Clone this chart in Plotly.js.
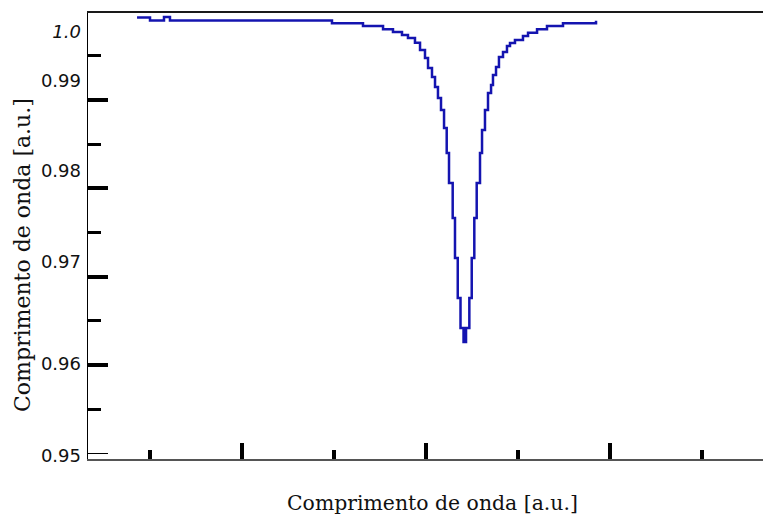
<!DOCTYPE html>
<html>
<head>
<meta charset="utf-8">
<script src="https://cdn.plot.ly/plotly-3.0.1.min.js"></script>
<style>html,body{margin:0;padding:0;background:#fff;}#chart{width:763px;height:515px;}</style>
</head>
<body>
<div id="chart"></div>
<script>
// Sampled transmission dip (stepped trace), arbitrary units
const wavelength = [0.859, 1.000, 1.152, 1.217, 2.978, 3.315, 3.533, 3.641, 3.739, 3.804, 3.880, 3.935, 3.989, 4.022, 4.065, 4.098, 4.130, 4.163, 4.196, 4.225, 4.250, 4.290, 4.315, 4.345, 4.375, 4.408, 4.435, 4.471, 4.497, 4.525, 4.551, 4.587, 4.609, 4.641, 4.674, 4.707, 4.728, 4.761, 4.793, 4.837, 4.880, 4.913, 4.967, 5.054, 5.109, 5.207, 5.315, 5.489, 5.848];
const intensity = [0.99934, 0.99900, 0.99940, 0.99900, 0.99868, 0.99838, 0.99800, 0.99770, 0.99736, 0.99702, 0.99649, 0.99566, 0.99476, 0.99362, 0.99260, 0.99147, 0.99023, 0.98887, 0.98683, 0.98400, 0.98060, 0.97664, 0.97211, 0.96759, 0.96419, 0.96260, 0.96419, 0.96759, 0.97211, 0.97664, 0.98060, 0.98400, 0.98660, 0.98887, 0.99079, 0.99170, 0.99283, 0.99374, 0.99487, 0.99544, 0.99611, 0.99645, 0.99679, 0.99725, 0.99762, 0.99800, 0.99838, 0.99868, 0.99898];

const yMajorTicks = [0.96, 0.97, 0.98, 0.99];
const yMinorTicks = [0.955, 0.965, 0.975, 0.985, 0.995];
const yBaseTick = [0.95];
const yLabelPositions = [0.9497, 0.96011, 0.97166, 0.98196, 0.99215, 0.99776];
const yLabelTexts = ['0.95', '0.96', '0.97', '0.98', '0.99', '<i>1.0</i>'];
const xMajorTicks = [2, 4, 6];
const xMinorTicks = [1, 3, 5, 7];

const xRange = [0.326, 7.663];
const yRange = [0.94936, 0.99985];
const xTitleText = 'Comprimento de onda [a.u.]';
const yTitleText = 'Comprimento de onda [a.u.]';

const data = [{
  x: wavelength,
  y: intensity,
  type: 'scatter',
  mode: 'lines',
  line: {color: '#1414b0', width: 2.5, shape: 'hv'},
  hoverinfo: 'skip',
  showlegend: false
}];

const layout = {
  width: 763, height: 515,
  margin: {l: 88, r: 0, t: 13, b: 56},
  paper_bgcolor: '#ffffff', plot_bgcolor: '#ffffff',
  showlegend: false,
  xaxis: {
    range: xRange, showgrid: false, zeroline: false,
    showline: true, linecolor: '#555555', linewidth: 2,
    ticks: 'inside', tickvals: xMajorTicks, ticklen: 16, tickwidth: 4, tickcolor: '#000',
    showticklabels: false,
    minor: {tickvals: xMinorTicks, ticks: 'inside', ticklen: 9, tickwidth: 4, tickcolor: '#000', showgrid: false}
  },
  xaxis2: {
    overlaying: 'x', side: 'top', range: xRange, matches: 'x',
    showgrid: false, zeroline: false, showline: true, linecolor: '#1a1a1a', linewidth: 2,
    ticks: '', showticklabels: false
  },
  yaxis: {
    range: yRange, showgrid: false, zeroline: false,
    showline: true, linecolor: '#000', linewidth: 1.5,
    ticks: 'inside', tickvals: yMajorTicks, ticklen: 20, tickwidth: 4, tickcolor: '#000',
    showticklabels: false,
    minor: {tickvals: yMinorTicks, ticks: 'inside', ticklen: 13, tickwidth: 3, tickcolor: '#000', showgrid: false}
  },
  yaxis2: {
    overlaying: 'y', side: 'left', range: yRange,
    showgrid: false, zeroline: false, showline: false,
    ticks: '', tickvals: yLabelPositions, ticktext: yLabelTexts,
    tickfont: {family: 'DejaVu Sans', size: 18, color: '#111'},
    ticklabelstandoff: 6
  },
  yaxis3: {
    overlaying: 'y', side: 'left', range: yRange,
    showgrid: false, zeroline: false, showline: false,
    ticks: 'inside', tickvals: yBaseTick, ticklen: 20, tickwidth: 1, tickcolor: '#000',
    showticklabels: false
  },
  annotations: [
    {text: xTitleText, xref: 'paper', yref: 'paper', x: 0.511, y: -0.0987,
     xanchor: 'center', yanchor: 'middle', showarrow: false,
     font: {family: 'DejaVu Serif', size: 20.4, color: '#111'}},
    {text: yTitleText, xref: 'paper', yref: 'paper', x: -0.098, y: 0.457,
     xanchor: 'center', yanchor: 'middle', showarrow: false, textangle: -90,
     font: {family: 'DejaVu Serif', size: 22, color: '#111'}}
  ]
};

// invisible helper traces so the overlay axes are drawn
data.push({x: [], y: [], xaxis: 'x2', yaxis: 'y2', type: 'scatter', mode: 'lines', showlegend: false, hoverinfo: 'skip'});
data.push({x: [], y: [], xaxis: 'x', yaxis: 'y3', type: 'scatter', mode: 'lines', showlegend: false, hoverinfo: 'skip'});

Plotly.newPlot('chart', data, layout, {displayModeBar: false, staticPlot: true});
</script>
</body>
</html>
